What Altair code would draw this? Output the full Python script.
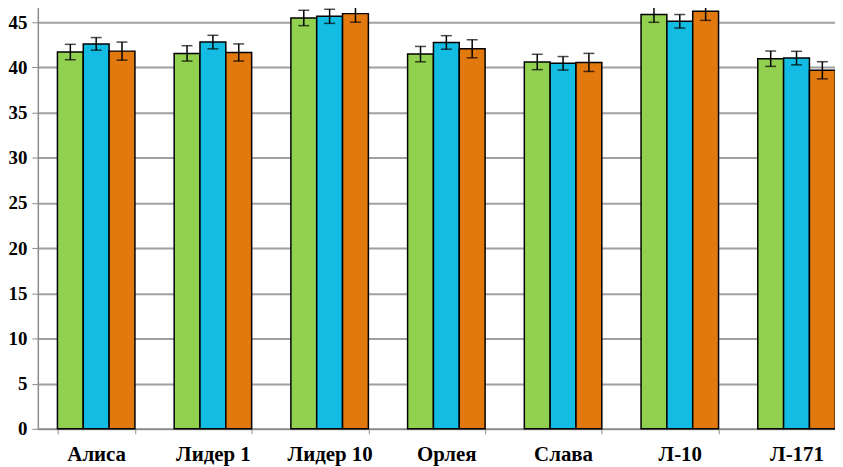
import altair as alt
import pandas as pd

categories = ["Алиса", "Лидер 1", "Лидер 10", "Орлея", "Слава", "Л-10", "Л-171"]
series = ["Ряд 1", "Ряд 2", "Ряд 3"]
colors = ["#92D050", "#13BCE2", "#E2790F"]

s1_val = [41.7, 41.55, 45.47, 41.47, 40.6, 45.84, 40.96]
s1_err = [0.85, 0.85, 0.85, 0.85, 0.85, 0.85, 0.85]
s2_val = [42.6, 42.8, 45.65, 42.76, 40.45, 45.1, 41.03]
s2_err = [0.7, 0.75, 0.78, 0.75, 0.75, 0.75, 0.75]
s3_val = [41.8, 41.65, 45.95, 42.06, 40.55, 46.2, 39.68]
s3_err = [1.0, 0.95, 0.95, 1.0, 1.0, 1.0, 0.95]
y_ticks = [0, 5, 10, 15, 20, 25, 30, 35, 40, 45]

rows = []
for s, vals, errs in zip(series, [s1_val, s2_val, s3_val], [s1_err, s2_err, s3_err]):
    for c, v, e in zip(categories, vals, errs):
        rows.append({"cat": c, "series": s, "value": v, "lo": v - e, "hi": v + e})
df = pd.DataFrame(rows)

FONT = "Liberation Serif"

x_axis = alt.Axis(
    labelAngle=0, tickBand="extent", ticks=True, tickSize=5,
    tickColor="#8C8C8C", domainColor="#8C8C8C", domainWidth=1.5,
    labelFont=FONT, labelFontWeight="bold", labelFontSize=21,
    labelColor="black", labelPadding=10, grid=False,
)
x_scale = alt.Scale(paddingInner=0.336, paddingOuter=0.168)
xoff = alt.XOffset("series:N", sort=series, scale=alt.Scale(paddingInner=0, paddingOuter=0))

y_axis = alt.Axis(
    values=y_ticks, grid=True, gridColor="#A0A0A0",
    gridWidth=2, tickColor="#8C8C8C", tickSize=6, domainColor="#8C8C8C",
    domainWidth=1.5, labelFont=FONT, labelFontWeight="bold",
    labelFontSize=19, labelColor="black", labelPadding=5,
)
y_scale = alt.Scale(domain=[0, 47.3], nice=False, zero=True)


def xenc():
    return alt.X("cat:N", sort=categories, title=None, scale=x_scale, axis=x_axis)


base = alt.Chart(df)

bars = base.mark_bar(stroke="black", strokeWidth=1.5).encode(
    x=xenc(),
    xOffset=xoff,
    y=alt.Y("value:Q", title=None, scale=y_scale, axis=y_axis),
    color=alt.Color("series:N", sort=series,
                    scale=alt.Scale(domain=series, range=colors), legend=None),
)

rules = base.mark_rule(color="black", strokeWidth=1.5).encode(
    x=xenc(), xOffset=xoff,
    y=alt.Y("lo:Q", title=None, scale=y_scale, axis=y_axis), y2="hi:Q",
)
cap_lo = base.mark_tick(color="black", thickness=1.5, size=11).encode(
    x=xenc(), xOffset=xoff, y=alt.Y("lo:Q", title=None, scale=y_scale, axis=y_axis),
)
cap_hi = base.mark_tick(color="black", thickness=1.5, size=11).encode(
    x=xenc(), xOffset=xoff, y=alt.Y("hi:Q", title=None, scale=y_scale, axis=y_axis),
)

chart = alt.layer(bars, rules, cap_lo, cap_hi).properties(
    width=822, height=430,
    padding={"top": -8, "left": 0, "right": -20, "bottom": 0},
    background="white",
).configure_view(strokeWidth=0).configure_axis(
    labelFont=FONT, labelFontWeight="bold", labelColor="black",
).configure_axisY(
    labelFont=FONT, labelFontWeight="bold", labelFontSize=19,
)

chart.save("out.html", embed_options={"renderer": "svg", "actions": False})
